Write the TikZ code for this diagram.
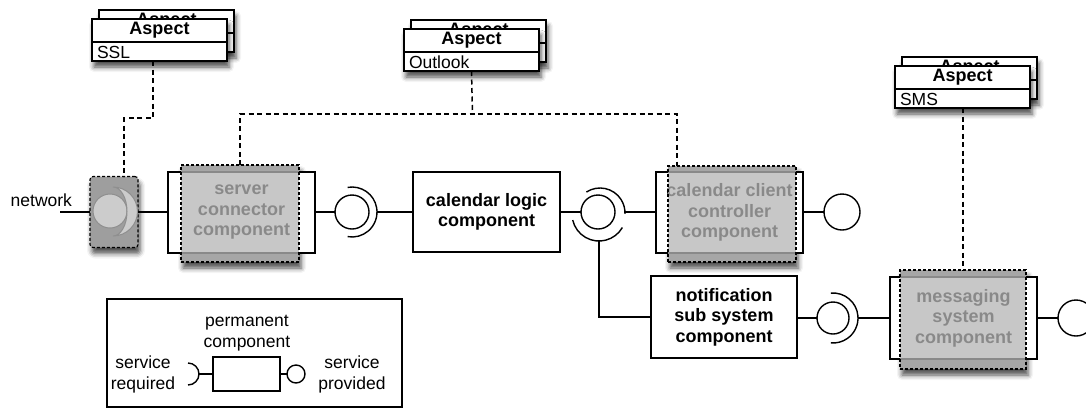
\documentclass[tikz,border=0pt]{standalone}
\usepackage{fontspec}
\setmainfont{Liberation Sans}
\usetikzlibrary{shadows.blur}
\definecolor{strip}{gray}{0.47}
\definecolor{veil}{gray}{0.715}
\definecolor{portfill}{gray}{0.62}
\definecolor{portlight}{gray}{0.80}
\definecolor{portline}{gray}{0.56}
\newcommand\aspectgroup[4]{%
  \node[aspbox] (#1back) at (#2+74.5,#3+12) {};
  \draw[thickln] (#2+7,#3+14) -- (#2+142,#3+14);
  \node[btxt] (#1backtitle) at (#2+74.5,#3+2.5) {Aspect};
  \node[aspbox] (#1) at (#2+67.5,#3+21) {};
  \draw[thickln] (#2,#3+23) -- (#2+135,#3+23);
  \node[btxt] (#1title) at (#2+67.5,#3+11.5) {Aspect};
  \node[txt, anchor=west] (#1label) at (#2+5,#3+33) {#4};
}
\begin{document}
\begin{tikzpicture}[x=1pt,y=-1pt,
  every node/.style={inner sep=0pt, outer sep=0pt},
  txt/.style={font=\fontsize{17.5}{20.5}\selectfont, align=center},
  btxt/.style={font=\fontsize{18}{20.5}\selectfont\bfseries, align=center},
  thickln/.style={line width=1.4pt},
  conn/.style={line width=1.4pt},
  aspline/.style={line width=1.5pt, dash pattern=on 5pt off 3.5pt},
  myshadow/.style={blur shadow={shadow xshift=2pt, shadow yshift=-6pt, shadow blur radius=5pt, shadow opacity=70}},
  aspbox/.style={draw, line width=1.4pt, fill=white, minimum width=135, minimum height=42, myshadow},
  comp/.style={draw, line width=1.4pt, fill=white, btxt},
  veilbox/.style={fill=veil, fill opacity=0.755, draw=black, draw opacity=1, line width=1.1pt, dash pattern=on 3pt off 2pt},
  ball/.style={circle, draw, line width=1.4pt, fill=white},
  portbox/.style={draw, line width=1.1pt, dash pattern=on 3pt off 2pt, rounded corners=3pt, fill=portfill, minimum width=48, minimum height=71, myshadow}
]
\useasboundingbox (0,0) rectangle (1086,408);

% ---------- aspects ----------
\aspectgroup{ssl}{92}{19}{SSL}
\aspectgroup{outlook}{404}{29}{Outlook}
\aspectgroup{sms}{895}{66}{SMS}

% ---------- network port ----------
\node[portbox] (port) at (114,212) {};
\node[circle, fill=portlight, draw=portline, line width=1pt, minimum size=34] (portball) at (110,211) {};
\path[fill=portlight, draw=portline, line width=1pt] (113,187) arc[start angle=-90,end angle=90,radius=24.5]
   arc[start angle=90,end angle=-90,x radius=14,y radius=24.5] -- cycle;
\coordinate (netend) at (60,212);
\draw[conn] (netend) -- (port.west);
\node[txt, anchor=base east] (nettext) at (72,206) {network};

% ---------- server connector ----------
\path[fill=strip, myshadow] (181,165) rectangle (299,262);
\node[comp, minimum width=147, minimum height=81] (server) at (241.5,212.5) {server\\connector\\component};
\node[veilbox, minimum width=118, minimum height=97] (serverveil) at (240,213.5) {};
\draw[conn] (port.east) -- (port.east -| server.west);

% ---------- calendar logic ----------
\node[comp, minimum width=147, minimum height=80] (logic) at (486.5,212) {calendar logic\\component};

% interface A
\node[ball, minimum size=34] (ballA) at (352,212) {};
\draw[conn] (server.east |- ballA.west) -- (ballA.west);
\draw[conn] ([shift={(-100:25)}]ballA.center) arc[start angle=-100,end angle=100,radius=25];
\coordinate (sockA) at (377,212);
\draw[conn] (sockA) -- (sockA -| logic.west);

% ---------- calendar client controller ----------
\path[fill=strip, myshadow] (668,166) rectangle (796,262);
\node[comp, minimum width=147, minimum height=81] (client) at (729.5,212.5) {calendar client\\controller\\component};
\node[veilbox, minimum width=128, minimum height=96] (clientveil) at (732,214) {};

% interface B
\node[ball, minimum size=34] (ballB) at (598,212) {};
\draw[conn] (logic.east |- ballB.west) -- (ballB.west);
\draw[conn] ([shift={(-123:25)}]600,213) arc[start angle=-123,end angle=2,radius=25];
\draw[conn] ([shift={(30:27)}]599,214) arc[start angle=30,end angle=167,radius=27];
\coordinate (sockBup) at (625,212);
\coordinate (sockBlow) at (599,241);
\draw[conn] (sockBup) -- (sockBup -| client.west);

% interface D
\node[ball, minimum size=36] (ballD) at (842,212) {};
\draw[conn] (client.east |- ballD.west) -- (ballD.west);

% ---------- notification ----------
\node[comp, minimum width=146, minimum height=82] (notif) at (724,317) {notification\\sub system\\component};
\draw[conn] (sockBlow) |- (notif.west);

% ---------- messaging ----------
\path[fill=strip, myshadow] (900,270) rectangle (1026,369);
\node[comp, minimum width=147, minimum height=82] (msg) at (963.5,318) {messaging\\system\\component};
\node[veilbox, minimum width=126, minimum height=99] (msgveil) at (963,319.5) {};

% interface C
\node[ball, minimum size=32] (ballC) at (833,318) {};
\draw[conn] (notif.east |- ballC.west) -- (ballC.west);
\draw[conn] ([shift={(-95:25)}]ballC.center) arc[start angle=-95,end angle=95,radius=25];
\coordinate (sockC) at (858,318);
\draw[conn] (sockC) -- (sockC -| msg.west);

% interface E
\node[ball, minimum size=36] (ballE) at (1076,318) {};
\draw[conn] (msg.east |- ballE.west) -- (ballE.west);

% ---------- aspect connectors ----------
\coordinate (sslknee) at (124,118);
\draw[aspline] ([xshift=-6.5pt]ssl.south) |- (sslknee) -- (sslknee |- port.north);
\coordinate (obus) at (472.5,114);
\draw[aspline] (outlook.south) -- (obus);
\draw[aspline] (serverveil.north) |- (obus) -| ([xshift=-55pt]clientveil.north);
\coordinate (smsfoot) at (963,108);
\draw[aspline] (smsfoot) -- (smsfoot |- msgveil.north);

% ---------- legend ----------
\node[draw, line width=1.4pt, minimum width=295, minimum height=108, anchor=north west] (legend) at (107,299) {};
\node[txt] (legperm) at (247,333) {permanent\\component};
\node[draw, line width=1.4pt, minimum width=67, minimum height=34] (legcomp) at (246.5,374) {};
\draw[conn] (legcomp.west) -- (199,374);
\draw[conn] (188,363) arc[start angle=-90,end angle=90,radius=11];
\node[circle, draw, line width=1.4pt, minimum size=18] (legball) at (296,374) {};
\draw[conn] (legcomp.east) -- (legball.west);
\node[txt] (legreq) at (143,374.5) {service\\required};
\node[txt] (legprov) at (352,374.5) {service\\provided};
\end{tikzpicture}
\end{document}
